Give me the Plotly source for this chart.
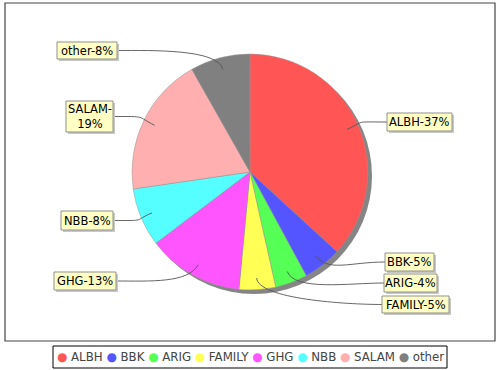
import math
import plotly.graph_objects as go

# ---- data ----
categories = ["ALBH", "BBK", "ARIG", "FAMILY", "GHG", "NBB", "SALAM", "other"]
values = [36.8, 5.3, 4.4, 5.0, 13.2, 8.0, 19.1, 8.2]
colors = ["#FF5555", "#5555FF", "#55FF55", "#FFFF55", "#FF55FF", "#55FFFF", "#FFAFAF", "#808080"]

# ---- layout constants (pixels) ----
W, H = 500, 370
CX, CY, R = 250, 172, 118
SHADOW = 4
# label box: x0, x1, y0, y1, wrap
label_box = {
    "ALBH":   (387, 452, 113, 131, False),
    "BBK":    (385, 434, 253, 271, False),
    "ARIG":   (384, 437, 274, 292, False),
    "FAMILY": (382, 449, 296, 313, False),
    "GHG":    (54, 116, 272, 290, False),
    "NBB":    (61, 113, 211, 230, False),
    "SALAM":  (66, 113, 101, 132, True),
    "other":  (57, 117, 42, 59, False),
}
LEGEND_BOX = (53, 447, 346, 368)


def px(x):
    return x / W


def py(y):
    return 1 - y / H


fig = go.Figure()

# shadow pie
fig.add_trace(go.Pie(
    values=[1], marker=dict(colors=["#858585"], line=dict(width=0)),
    domain=dict(x=[px(CX - R + SHADOW), px(CX + R + SHADOW)],
                y=[py(CY + R + SHADOW), py(CY - R + SHADOW)]),
    textinfo="none", hoverinfo="skip", showlegend=False, sort=False,
))

# main pie
fig.add_trace(go.Pie(
    labels=categories, values=values,
    marker=dict(colors=colors, line=dict(color="rgba(150,150,150,0.8)", width=0.6)),
    domain=dict(x=[px(CX - R), px(CX + R)], y=[py(CY + R), py(CY - R)]),
    sort=False, direction="clockwise", rotation=0,
    textinfo="none", hoverinfo="label+percent", showlegend=False,
))

total = sum(values)
shapes = []
annotations = []
cum = 0.0
for name, v in zip(categories, values):
    mid = (cum + v / 2) / total * 2 * math.pi
    cum += v
    dx, dy = math.sin(mid), -math.cos(mid)
    ax, ay = CX + 0.9 * R * dx, CY + 0.9 * R * dy
    ex, ey = CX + 1.08 * R * dx, CY + 1.08 * R * dy
    x0, x1, y0, y1, wrap = label_box[name]
    ly = (y0 + y1) / 2
    right = x0 > CX
    edge = x0 if right else x1
    c2x = edge - 35 if right else edge + 35
    path = (f"M {px(ax)},{py(ay)} C {px(ex)},{py(ey)} {px(c2x)},{py(ly)} "
            f"{px(edge)},{py(ly)}")
    shapes.append(dict(type="path", path=path, xref="paper", yref="paper",
                       line=dict(color="#555555", width=0.9)))
    # box shadow and box
    shapes.append(dict(type="rect", xref="paper", yref="paper",
                       x0=px(x0 + 2), x1=px(x1 + 2), y0=py(y1 + 2), y1=py(y0 + 2),
                       fillcolor="#c8c8c8", line=dict(width=0)))
    shapes.append(dict(type="rect", xref="paper", yref="paper",
                       x0=px(x0), x1=px(x1), y0=py(y1), y1=py(y0),
                       fillcolor="#FFFFC4", line=dict(color="#909090", width=1)))
    pct = round(100 * v / total)
    text = f"{name}-<br>{pct}%" if wrap else f"{name}-{pct}%"
    annotations.append(dict(x=px((x0 + x1) / 2), y=py(ly), xref="paper", yref="paper",
                            xanchor="center", yanchor="middle",
                            text=text, showarrow=False,
                            font=dict(family="DejaVu Sans", size=11.5, color="#000000")))

# plot area border
shapes.append(dict(type="rect", xref="paper", yref="paper",
                   x0=px(5), x1=px(495), y0=py(341), y1=py(3),
                   line=dict(color="#444444", width=1.2)))

# legend (built from categories and colours)
lx0, lx1, ly0, ly1 = LEGEND_BOX
shapes.append(dict(type="rect", xref="paper", yref="paper",
                   x0=px(lx0), x1=px(lx1), y0=py(ly1), y1=py(ly0),
                   fillcolor="#ffffff", line=dict(color="#000000", width=1)))
legend_text = " ".join(
    f"<span style='color:{c}'>●</span> {n}" for n, c in zip(categories, colors)
)
annotations.append(dict(x=px((lx0 + lx1) / 2), y=py((ly0 + ly1) / 2),
                        xref="paper", yref="paper", xanchor="center", yanchor="middle",
                        text=legend_text, showarrow=False,
                        font=dict(family="DejaVu Sans", size=11.8, color="#444444")))

fig.update_layout(
    width=W, height=H,
    margin=dict(l=0, r=0, t=0, b=0),
    paper_bgcolor="#ffffff", plot_bgcolor="#ffffff",
    shapes=shapes, annotations=annotations,
    showlegend=False,
)

fig.write_html("out.html", config={"displayModeBar": False},
               post_script="document.body.style.margin='0';document.body.style.overflow='hidden';")
